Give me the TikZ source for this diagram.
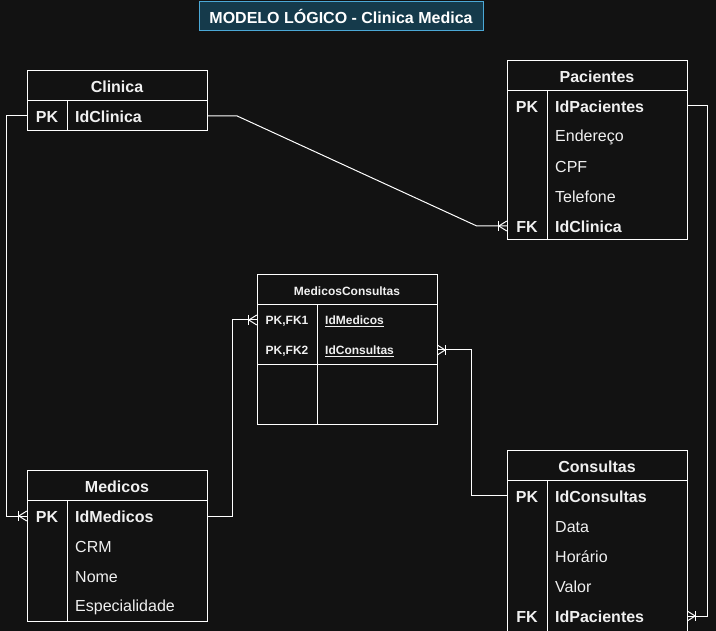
\documentclass[tikz,border=0pt]{standalone}
\usepackage{fontspec}
\setmainfont{Liberation Sans}
\usetikzlibrary{calc}
\definecolor{bgc}{HTML}{121212}
\definecolor{txt}{HTML}{F0F0F0}
\definecolor{titlefill}{HTML}{153A4B}
\definecolor{titleborder}{HTML}{4BA8D6}
\begin{document}
\begin{tikzpicture}[x=1pt,y=-1pt,
  ln/.style={draw=white,line width=1pt},
  bigb/.style={font=\bfseries\fontsize{16}{19}\selectfont,text=txt,inner sep=0pt,yshift=-1pt},
  bigr/.style={font=\fontsize{16}{19}\selectfont,text=txt,inner sep=0pt,yshift=-1pt},
  smallb/.style={font=\bfseries\fontsize{12}{14}\selectfont,text=txt,inner sep=0pt,yshift=-1pt},
  rowbox/.style={minimum width=180pt,minimum height=30pt,inner sep=0pt},
  crow/.pic={\draw[ln] (-8,0) -- (0,-5); \draw[ln] (-8,0) -- (0,5); \draw[ln] (-8,-5) -- (-8,5);}
]
\fill[bgc] (0,0) rectangle (716,631);
\useasboundingbox (0,0) rectangle (716,631);

% title
\node[draw=titleborder,fill=titlefill,line width=1pt,minimum width=284pt,minimum height=29pt,
  font=\bfseries\fontsize{16}{19}\selectfont,text=white] (title) at (341,16.5) {MODELO LÓGICO - Clinica Medica};

% ---------- Clinica ----------
\draw[ln] (27,71) rectangle (207,131);
\draw[ln] (27,101) -- (207,101);
\draw[ln] (67,101) -- (67,131);
\node[bigb] (cliH) at (117,86) {Clinica};
\node[rowbox] (cliR1) at (117,116) {};
\node[bigb] (cliK1) at (47,116) {PK};
\node[bigb,anchor=west] (cliF1) at (75,116) {IdClinica};

% ---------- Pacientes ----------
\draw[ln] (507,61) rectangle (687,240);
\draw[ln] (507,91) -- (687,91);
\draw[ln] (547,91) -- (547,240);
\node[bigb] (pacH) at (597,76) {Pacientes};
\node[rowbox] (pacR1) at (597,106) {};
\node[rowbox] (pacR5) at (597,226) {};
\node[bigb] (pacK1) at (527,106) {PK};
\node[bigb,anchor=west] (pacF1) at (555,106) {IdPacientes};
\node[bigr,anchor=west] (pacF2) at (555,136) {Endereço};
\node[bigr,anchor=west] (pacF3) at (555,166) {CPF};
\node[bigr,anchor=west] (pacF4) at (555,196) {Telefone};
\node[bigb] (pacK5) at (527,226) {FK};
\node[bigb,anchor=west] (pacF5) at (555,226) {IdClinica};

% ---------- MedicosConsultas ----------
\draw[ln] (257,275) rectangle (437,425);
\draw[ln] (257,305) -- (437,305);
\draw[ln] (257,365) -- (437,365);
\draw[ln] (317,305) -- (317,425);
\node[smallb] (mcH) at (347,290) {MedicosConsultas};
\node[rowbox] (mcR1) at (347,320) {};
\node[rowbox] (mcR2) at (347,350) {};
\node[smallb] (mcK1) at (287,320) {PK,FK1};
\node[smallb,anchor=west] (mcF1) at (325,320) {\underline{IdMedicos}};
\node[smallb] (mcK2) at (287,350) {PK,FK2};
\node[smallb,anchor=west] (mcF2) at (325,350) {\underline{IdConsultas}};

% ---------- Medicos ----------
\draw[ln] (27,471) rectangle (207,621);
\draw[ln] (27,501) -- (207,501);
\draw[ln] (67,501) -- (67,621);
\node[bigb] (medH) at (117,486) {Medicos};
\node[rowbox] (medR1) at (117,516) {};
\node[bigb] (medK1) at (47,516) {PK};
\node[bigb,anchor=west] (medF1) at (75,516) {IdMedicos};
\node[bigr,anchor=west] (medF2) at (75,546) {CRM};
\node[bigr,anchor=west] (medF3) at (75,576) {Nome};
\node[bigr,anchor=west] (medF4) at (75,606) {Especialidade};

% ---------- Consultas ----------
\draw[ln] (507,451) rectangle (687,631.5);
\draw[ln] (507,481) -- (687,481);
\draw[ln] (547,481) -- (547,631.5);
\node[bigb] (conH) at (597,466) {Consultas};
\node[rowbox] (conR1) at (597,496) {};
\node[rowbox] (conR5) at (597,616) {};
\node[bigb] (conK1) at (527,496) {PK};
\node[bigb,anchor=west] (conF1) at (555,496) {IdConsultas};
\node[bigr,anchor=west] (conF2) at (555,526) {Data};
\node[bigr,anchor=west] (conF3) at (555,556) {Horário};
\node[bigr,anchor=west] (conF4) at (555,586) {Valor};
\node[bigb] (conK5) at (527,616) {FK};
\node[bigb,anchor=west] (conF5) at (555,616) {IdPacientes};

% ---------- connectors ----------
\draw[ln] (cliR1.east) -- ++(30,0) -- ($(pacR5.west)+(-30,0)$) -- (pacR5.west);
\pic at (pacR5.west) {crow};
\draw[ln] (cliR1.west) -- ++(-20,0) |- (medR1.west);
\pic at (medR1.west) {crow};
\draw[ln] (medR1.east) -- ++(25,0) |- (mcR1.west);
\pic at (mcR1.west) {crow};
\draw[ln] (conR1.west) -- ++(-35,0) |- (mcR2.east);
\pic[rotate=180] at (mcR2.east) {crow};
\draw[ln] (pacR1.east) -- ++(20,0) |- (conR5.east);
\pic[rotate=180] at (conR5.east) {crow};
\end{tikzpicture}
\end{document}
